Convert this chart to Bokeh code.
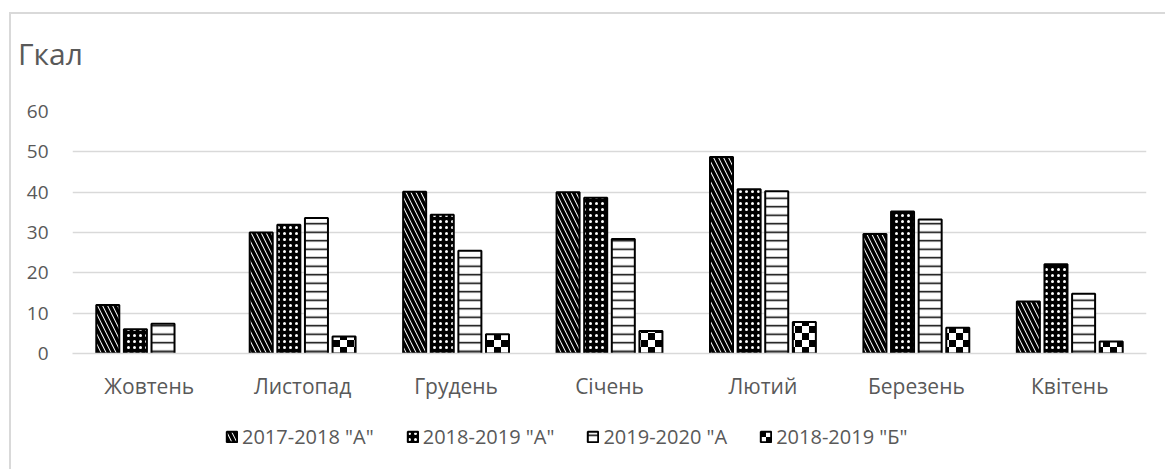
import base64
import math

from bokeh.core.properties import value
from bokeh.embed import file_html
from bokeh.layouts import column
from bokeh.models import (ColumnDataSource, Div, FixedTicker,
                          ImageURLTexture, Legend, LegendItem)
from bokeh.plotting import figure
from bokeh.resources import INLINE
from bokeh.transform import dodge

# Heat consumption per month, Gcal
months = ["Жовтень", "Листопад", "Грудень", "Січень", "Лютий", "Березень", "Квітень"]
s_1718_a = [12.0, 30.0, 40.1, 40.0, 48.7, 29.6, 12.9]
s_1819_a = [6.0, 31.9, 34.4, 38.6, 40.7, 35.2, 22.1]
s_1920_a = [7.4, 33.6, 25.5, 28.4, 40.2, 33.2, 14.8]
s_1819_b = [None, 4.2, 4.8, 5.6, 7.8, 6.4, 3.0]
series_labels = ['2017-2018 "А"', '2018-2019 "А"', '2019-2020 "А', '2018-2019 "Б"']
y_ticks = [0, 10, 20, 30, 40, 50, 60]
unit_title = "Гкал"

FONT = "Open Sans"
TEXT = "#595959"
GRID = "#d9d9d9"
W = 1154


def clean(vals):
    return [math.nan if v is None else v for v in vals]


source = ColumnDataSource(dict(
    month=months,
    a1718=clean(s_1718_a),
    a1819=clean(s_1819_a),
    a1920=clean(s_1920_a),
    b1819=clean(s_1819_b),
))

# unit caption above the plot
title_div = Div(
    text=(f'<div style="font-family:\'{FONT}\';font-size:30px;line-height:30px;'
          f'color:{TEXT};padding:25px 0 0 7px;">{unit_title}</div>'),
    width=W, height=60, margin=0,
)

p = figure(
    x_range=months, y_range=(0, 60),
    width=W, height=341,
    output_backend="svg", toolbar_location=None,
    min_border_left=61, min_border_right=19,
    min_border_top=37, min_border_bottom=62,
    margin=0,
)
p.outline_line_color = None
p.background_fill_color = "white"
p.border_fill_color = "white"

# checkerboard texture for the "Б" series
checker_svg = (
    "<svg xmlns='http://www.w3.org/2000/svg' width='14' height='14'>"
    "<rect width='14' height='14' fill='white'/>"
    "<rect width='7' height='7' fill='black'/>"
    "<rect x='7' y='7' width='7' height='7' fill='black'/>"
    "</svg>"
)
checker_url = "data:image/svg+xml;base64," + base64.b64encode(checker_svg.encode()).decode()

bar_w = 0.15
step = 0.18
fields = ["a1718", "a1819", "a1920", "b1819"]


def bar_style():
    checker = ImageURLTexture(url=checker_url, repetition="repeat")
    return [
        dict(fill_color="white", hatch_pattern="left_diagonal_line",
             hatch_color="black", hatch_scale=10, hatch_weight=3.5),
        dict(fill_color="black", hatch_pattern="dot",
             hatch_color="white", hatch_scale=6, hatch_weight=1.5),
        dict(fill_color="white", hatch_pattern="horizontal_line",
             hatch_color="black", hatch_scale=8.5, hatch_weight=1.5),
        dict(fill_color="white", hatch_pattern=value("checker"),
             hatch_color="black", hatch_scale=14, hatch_weight=1,
             hatch_extra={"checker": checker}),
    ]


for i, (field, st) in enumerate(zip(fields, bar_style())):
    p.vbar(x=dodge("month", (i - 1.5) * step, range=p.x_range), top=field,
           width=bar_w, source=source, line_color="black", line_width=2, **st)

# axes
p.yaxis.ticker = FixedTicker(ticks=y_ticks)
p.yaxis.axis_line_color = None
p.yaxis.major_tick_line_color = None
p.yaxis.minor_tick_line_color = None
p.yaxis.major_label_text_font = FONT
p.yaxis.major_label_text_font_size = "19px"
p.yaxis.major_label_text_color = TEXT
p.yaxis.major_label_standoff = 18

p.xaxis.axis_line_color = GRID
p.xaxis.axis_line_width = 1.5
p.xaxis.major_tick_line_color = None
p.xaxis.minor_tick_line_color = None
p.xaxis.major_label_text_font = FONT
p.xaxis.major_label_text_font_size = "21px"
p.xaxis.major_label_text_color = TEXT
p.xaxis.major_label_standoff = 12

p.xgrid.grid_line_color = None
p.ygrid.grid_line_color = GRID
p.ygrid.grid_line_width = 1.3
p.ygrid.ticker = FixedTicker(ticks=y_ticks)

# legend strip under the plot; swatch renderers carry no drawable point
leg = figure(
    width=W, height=54, x_range=(0, 1), y_range=(0, 1),
    x_axis_type=None, y_axis_type=None,
    output_backend="svg", toolbar_location=None,
    min_border=0, margin=0,
)
leg.outline_line_color = None
leg.background_fill_color = "white"
leg.border_fill_color = "white"

swatches = [leg.vbar(x=[math.nan], top=[math.nan], width=0.1,
                     line_color="black", line_width=2, **st)
            for st in bar_style()]

legend = Legend(
    items=[LegendItem(label=lab, renderers=[r]) for lab, r in zip(series_labels, swatches)],
    orientation="horizontal", location=(153, 19),
    label_text_font=FONT, label_text_font_size="20px", label_text_color=TEXT,
    glyph_width=13, glyph_height=13, spacing=32, label_standoff=4,
    border_line_color=None, background_fill_alpha=0,
    padding=0, margin=0,
)
leg.add_layout(legend)

layout = column(
    title_div, p, leg, spacing=0, margin=(12, 0, 0, 9),
    styles={"border-left": f"2px solid {GRID}", "border-top": f"2px solid {GRID}",
            "background": "white"},
)

open("out.html", "w").write(file_html(layout, INLINE))
